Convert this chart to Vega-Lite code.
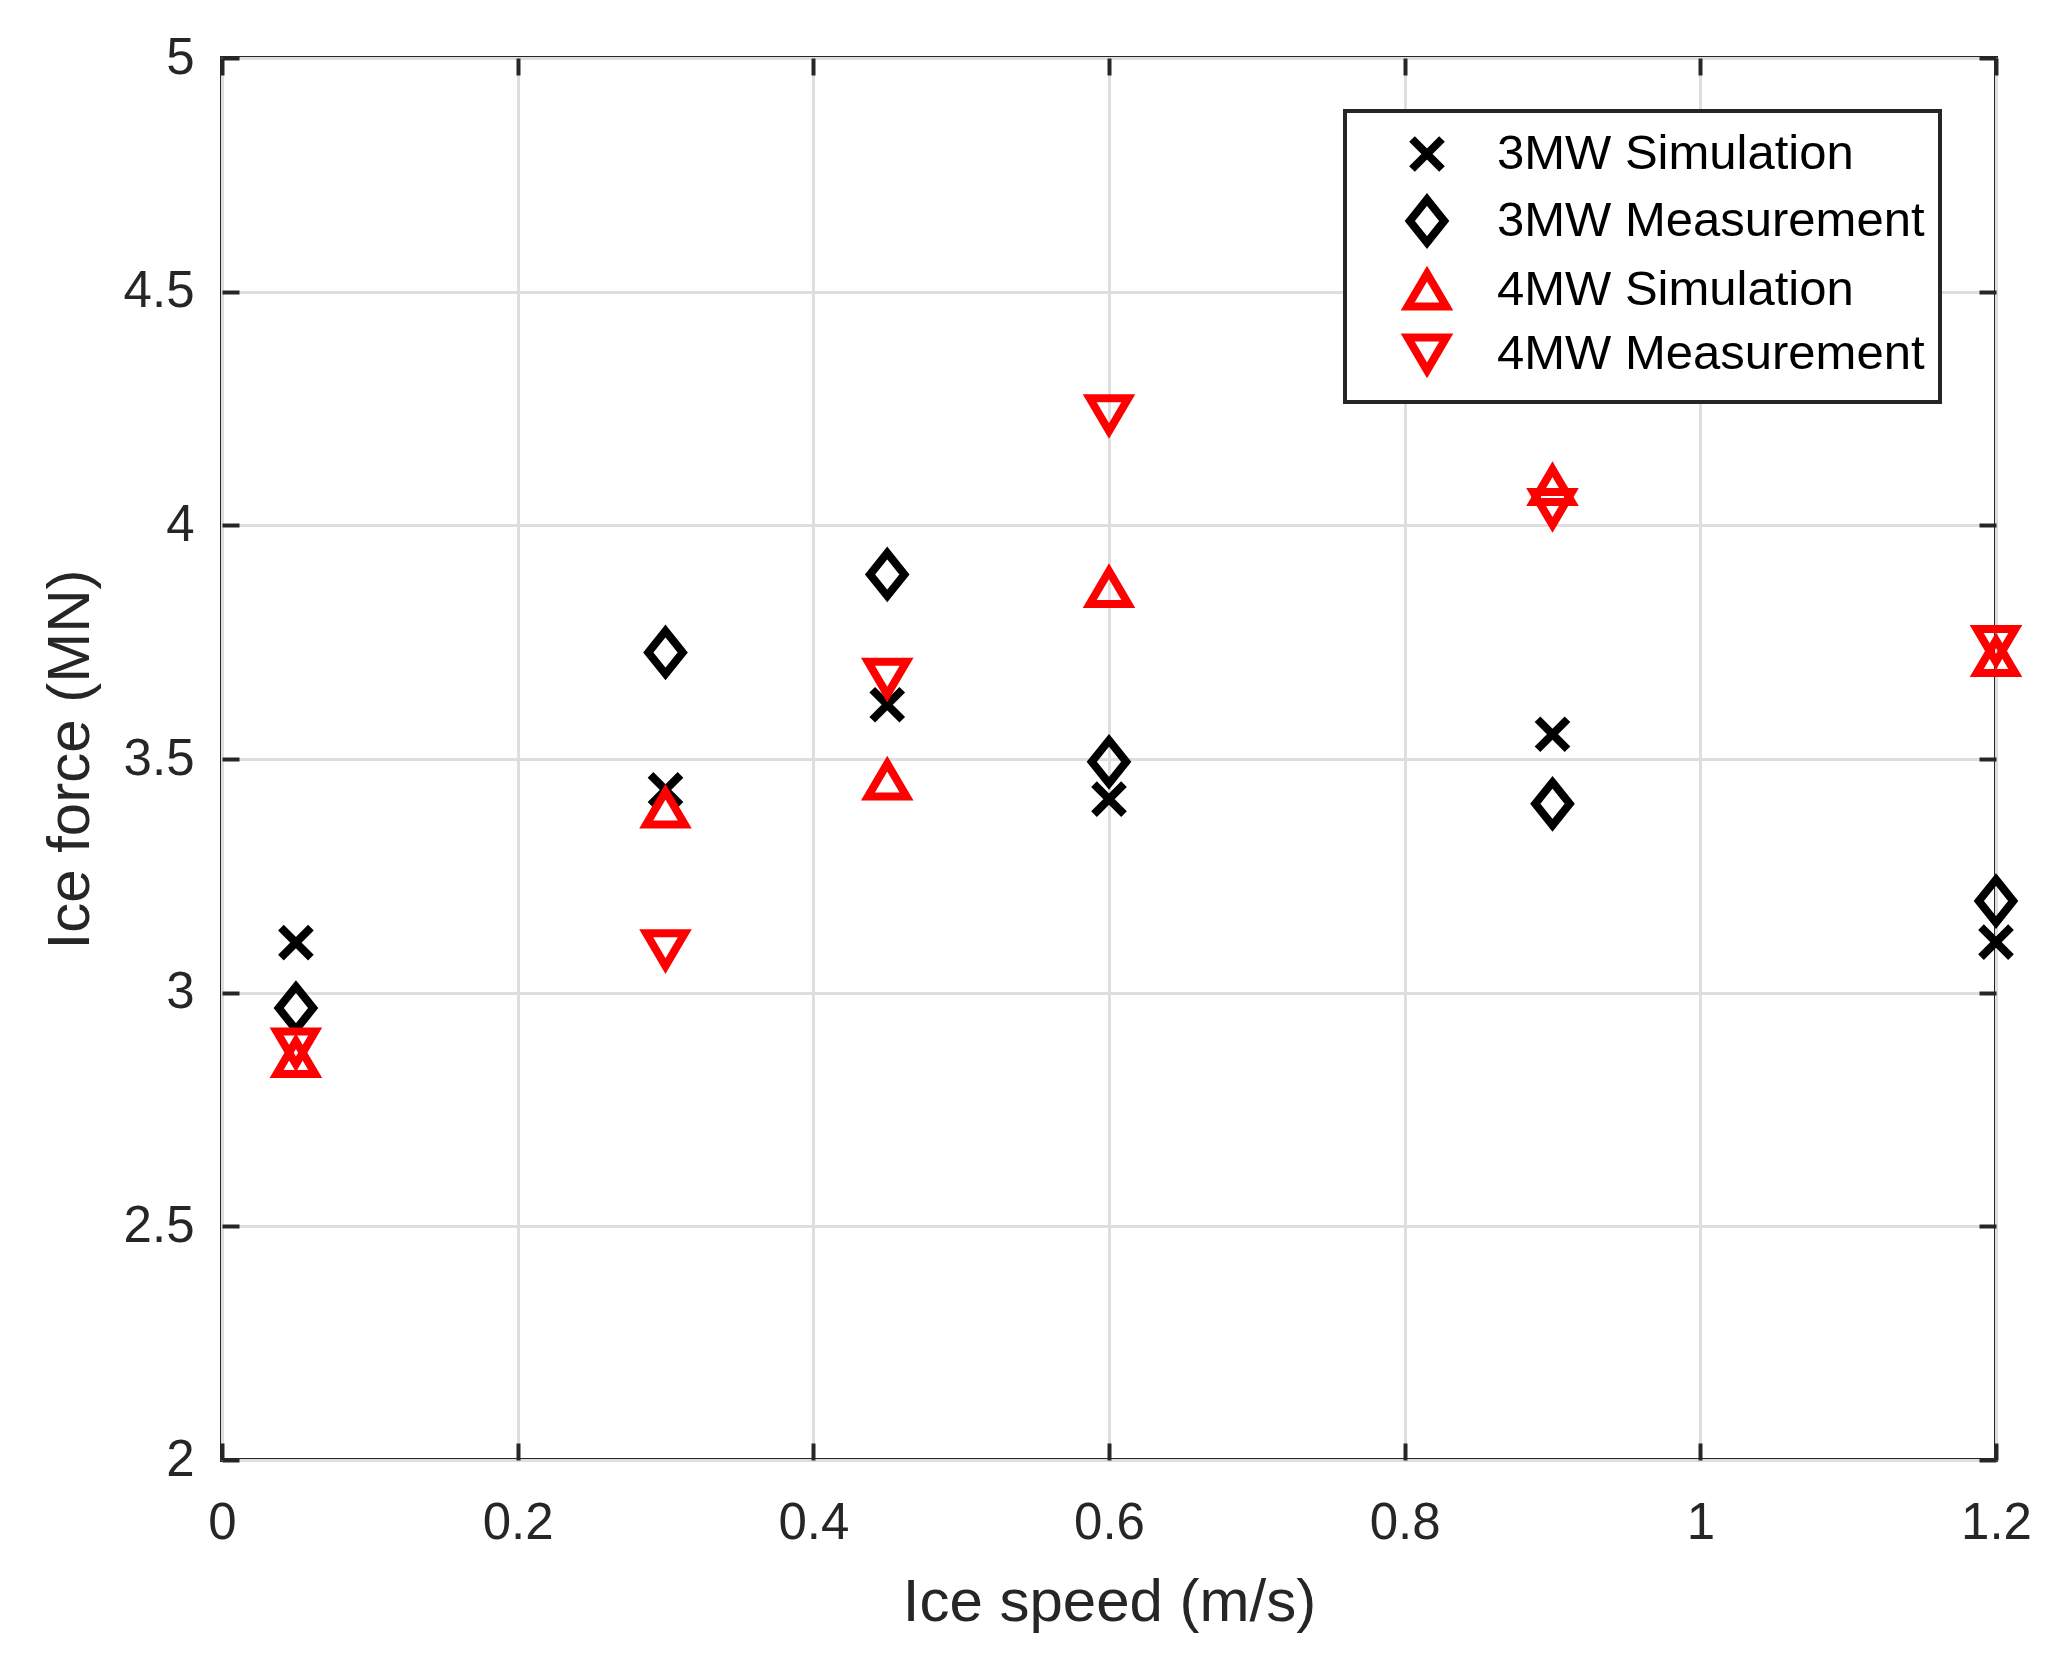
{
  "$schema": "https://vega.github.io/schema/vega-lite/v6.json",
  "width": 1774,
  "height": 1402,
  "autosize": "none",
  "padding": {"left": 222, "top": 58, "right": 76, "bottom": 200},
  "background": "white",
  "data": {
    "values": [
      {"speed": 0.05, "force": 3.107, "series": "3MW Simulation"},
      {"speed": 0.3, "force": 3.434, "series": "3MW Simulation"},
      {"speed": 0.45, "force": 3.616, "series": "3MW Simulation"},
      {"speed": 0.6, "force": 3.414, "series": "3MW Simulation"},
      {"speed": 0.9, "force": 3.553, "series": "3MW Simulation"},
      {"speed": 1.2, "force": 3.108, "series": "3MW Simulation"},
      {"speed": 0.05, "force": 2.967, "series": "3MW Measurement"},
      {"speed": 0.3, "force": 3.728, "series": "3MW Measurement"},
      {"speed": 0.45, "force": 3.895, "series": "3MW Measurement"},
      {"speed": 0.6, "force": 3.494, "series": "3MW Measurement"},
      {"speed": 0.9, "force": 3.404, "series": "3MW Measurement"},
      {"speed": 1.2, "force": 3.196, "series": "3MW Measurement"},
      {"speed": 0.05, "force": 2.861, "series": "4MW Simulation"},
      {"speed": 0.3, "force": 3.395, "series": "4MW Simulation"},
      {"speed": 0.45, "force": 3.455, "series": "4MW Simulation"},
      {"speed": 0.6, "force": 3.867, "series": "4MW Simulation"},
      {"speed": 0.9, "force": 4.085, "series": "4MW Simulation"},
      {"speed": 1.2, "force": 3.719, "series": "4MW Simulation"},
      {"speed": 0.05, "force": 2.882, "series": "4MW Measurement"},
      {"speed": 0.3, "force": 3.092, "series": "4MW Measurement"},
      {"speed": 0.45, "force": 3.673, "series": "4MW Measurement"},
      {"speed": 0.6, "force": 4.237, "series": "4MW Measurement"},
      {"speed": 0.9, "force": 4.036, "series": "4MW Measurement"},
      {"speed": 1.2, "force": 3.743, "series": "4MW Measurement"}
    ]
  },
  "layer": [
    {
      "mark": {"type": "point", "filled": false, "size": 2304, "strokeWidth": 8, "opacity": 1},
      "encoding": {
        "x": {
          "field": "speed",
          "type": "quantitative",
          "scale": {"domain": [0, 1.2], "nice": false, "zero": false},
          "axis": {
            "orient": "bottom",
            "values": [0, 0.2, 0.4, 0.6, 0.8, 1, 1.2],
            "format": "~g",
            "title": "Ice speed (m/s)",
            "labelBaseline": "alphabetic",
            "labelPadding": 95,
            "titleBaseline": "alphabetic",
            "titleX": 887,
            "titleY": 160
          }
        },
        "y": {
          "field": "force",
          "type": "quantitative",
          "scale": {"domain": [2, 5], "nice": false, "zero": false},
          "axis": {
            "orient": "left",
            "values": [2, 2.5, 3, 3.5, 4, 4.5, 5],
            "format": "~g",
            "title": "Ice force (MN)",
            "labelPadding": 45,
            "titleAngle": 270,
            "titleBaseline": "alphabetic",
            "titleX": -134,
            "titleY": 701
          }
        },
        "color": {
          "field": "series",
          "type": "nominal",
          "scale": {
            "domain": ["3MW Simulation", "3MW Measurement", "4MW Simulation", "4MW Measurement"],
            "range": ["#000000", "#000000", "#ff0000", "#ff0000"]
          },
          "legend": {"title": null}
        },
        "shape": {
          "field": "series",
          "type": "nominal",
          "scale": {
            "domain": ["3MW Simulation", "3MW Measurement", "4MW Simulation", "4MW Measurement"],
            "range": [
              "M-0.625,-0.625L0.625,0.625M-0.625,0.625L0.625,-0.625",
              "M0,-0.896L0.717,0L0,0.896L-0.717,0Z",
              "M0,-0.683L0.804,0.683L-0.804,0.683Z",
              "M0,0.683L0.804,-0.683L-0.804,-0.683Z"
            ]
          },
          "legend": {"title": null}
        }
      }
    },
    {
      "mark": {"type": "point", "opacity": 0},
      "encoding": {
        "x": {
          "field": "speed",
          "type": "quantitative",
          "axis": {
            "orient": "top",
            "values": [0, 0.2, 0.4, 0.6, 0.8, 1, 1.2],
            "labels": false,
            "grid": false,
            "title": null
          }
        },
        "y": {
          "field": "force",
          "type": "quantitative",
          "axis": {
            "orient": "right",
            "values": [2, 2.5, 3, 3.5, 4, 4.5, 5],
            "labels": false,
            "grid": false,
            "title": null
          }
        }
      }
    }
  ],
  "config": {
    "font": "Liberation Sans",
    "view": {"stroke": "#262626", "strokeWidth": 4},
    "axis": {
      "domain": false,
      "labelFont": "Liberation Sans",
      "labelFontSize": 51,
      "labelColor": "#262626",
      "labelFlush": false,
      "labelOverlap": false,
      "titleFont": "Liberation Sans",
      "titleFontSize": 60,
      "titleFontWeight": "normal",
      "titleColor": "#262626",
      "grid": true,
      "gridColor": "#dedede",
      "gridWidth": 3,
      "gridOpacity": 1,
      "tickColor": "#262626",
      "tickWidth": 4,
      "tickSize": -17
    },
    "legend": {
      "orient": "none",
      "legendX": 1123,
      "legendY": 53,
      "fillColor": "white",
      "strokeColor": "#262626",
      "strokeWidth": 4,
      "padding": 15,
      "rowPadding": -2,
      "labelFont": "Liberation Sans",
      "labelFontSize": 49,
      "labelColor": "#000000",
      "labelLimit": 1000,
      "symbolSize": 2304,
      "symbolStrokeWidth": 8,
      "symbolOffset": 39,
      "labelOffset": 42
    }
  }
}
